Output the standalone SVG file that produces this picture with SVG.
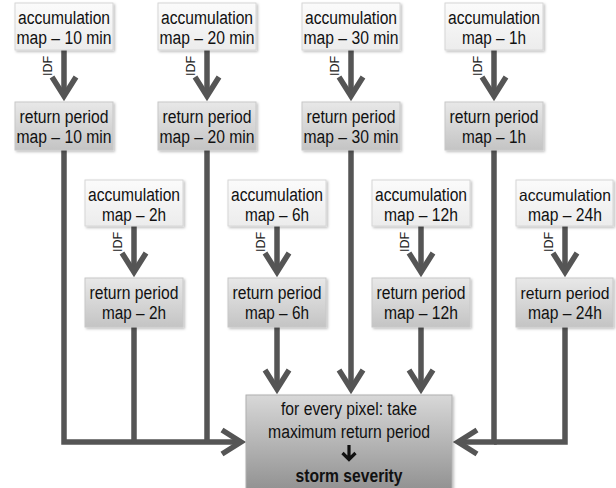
<svg xmlns="http://www.w3.org/2000/svg" width="616" height="488" viewBox="0 0 616 488">
<style>
  text { font-family: "Liberation Sans", Arial, sans-serif; fill: #111; }
  .t { font-size: 18px; text-anchor: middle; }
  .s { font-size: 16.5px; }
  .idf { font-size: 12.5px; text-anchor: middle; fill: #222; }
  .b { font-weight: bold; }
  .acc { fill: url(#gAcc); stroke: #d6d6d6; stroke-width: 1; filter: url(#sh); }
  .rp { fill: url(#gRp); stroke: #c8c8c8; stroke-width: 1; filter: url(#sh); }
  .fin { fill: url(#gFin); stroke: #b0b0b0; stroke-width: 1; filter: url(#sh); }
  .c { fill: none; stroke: #555; stroke-width: 5.5; stroke-linejoin: miter; }
  .a { marker-end: url(#ah); }
</style>
<defs>
  <linearGradient id="gAcc" x1="0" y1="0" x2="0" y2="1">
    <stop offset="0" stop-color="#fbfbfb"/>
    <stop offset="1" stop-color="#ececec"/>
  </linearGradient>
  <linearGradient id="gRp" x1="0" y1="0" x2="0" y2="1">
    <stop offset="0" stop-color="#e8e8e8"/>
    <stop offset="1" stop-color="#c4c4c4"/>
  </linearGradient>
  <linearGradient id="gFin" x1="0" y1="0" x2="0" y2="1">
    <stop offset="0" stop-color="#d8d8d8"/>
    <stop offset="1" stop-color="#8e8e8e"/>
  </linearGradient>
  <filter id="sh" x="-10%" y="-10%" width="130%" height="130%">
    <feDropShadow dx="1.5" dy="1.5" stdDeviation="1.2" flood-color="#000" flood-opacity="0.25"/>
  </filter>
  <marker id="ah" markerUnits="userSpaceOnUse" viewBox="-25 -15 35 30" markerWidth="35" markerHeight="30" refX="0" refY="0" orient="auto" overflow="visible">
    <path d="M-19,-12 L0,0 L-19,12" fill="none" stroke="#555" stroke-width="5.5" stroke-linejoin="miter"/>
  </marker>
</defs>

<g id="connectors">
  <path class="c a" d="M64,50 V96"/>
  <path class="c a" d="M207,50 V96"/>
  <path class="c a" d="M351,50 V96"/>
  <path class="c a" d="M494,50 V96"/>
  <path class="c a" d="M134,226 V272"/>
  <path class="c a" d="M277,226 V272"/>
  <path class="c a" d="M421,226 V272"/>
  <path class="c a" d="M565,226 V272"/>
  <path class="c a" d="M64,150 V442 H241"/>
  <path class="c" d="M134,327 V442"/>
  <path class="c" d="M207,150 V442"/>
  <path class="c a" d="M277,327 V389"/>
  <path class="c a" d="M351,150 V389"/>
  <path class="c a" d="M421,327 V389"/>
  <path class="c a" d="M494,150 V442 H458"/>
  <path class="c" d="M565,327 V442 H494"/>
  <text class="idf" transform="translate(52,66) rotate(-90)">IDF</text>
  <text class="idf" transform="translate(195,66) rotate(-90)">IDF</text>
  <text class="idf" transform="translate(339,66) rotate(-90)">IDF</text>
  <text class="idf" transform="translate(482,66) rotate(-90)">IDF</text>
  <text class="idf" transform="translate(122,242) rotate(-90)">IDF</text>
  <text class="idf" transform="translate(265,242) rotate(-90)">IDF</text>
  <text class="idf" transform="translate(409,242) rotate(-90)">IDF</text>
  <text class="idf" transform="translate(553,242) rotate(-90)">IDF</text>
</g>

<g id="acc-10min">
  <rect class="acc" x="15" y="3" width="98" height="47"/>
  <text class="t" x="64" y="24" textLength="92" lengthAdjust="spacingAndGlyphs">accumulation</text>
  <text class="t" x="64" y="44" textLength="95" lengthAdjust="spacingAndGlyphs">map – 10 min</text>
</g>
<g id="acc-20min">
  <rect class="acc" x="158" y="3" width="98" height="47"/>
  <text class="t" x="207" y="24" textLength="92" lengthAdjust="spacingAndGlyphs">accumulation</text>
  <text class="t" x="207" y="44" textLength="95" lengthAdjust="spacingAndGlyphs">map – 20 min</text>
</g>
<g id="acc-30min">
  <rect class="acc" x="302" y="3" width="98" height="47"/>
  <text class="t" x="351" y="24" textLength="92" lengthAdjust="spacingAndGlyphs">accumulation</text>
  <text class="t" x="351" y="44" textLength="95" lengthAdjust="spacingAndGlyphs">map – 30 min</text>
</g>
<g id="acc-1h">
  <rect class="acc" x="445" y="3" width="98" height="47"/>
  <text class="t" x="494" y="24" textLength="92" lengthAdjust="spacingAndGlyphs">accumulation</text>
  <text class="t" x="494" y="44" textLength="64" lengthAdjust="spacingAndGlyphs">map – 1h</text>
</g>

<g id="rp-10min">
  <rect class="rp" x="15" y="102" width="98" height="48"/>
  <text class="t" x="64" y="123" textLength="89" lengthAdjust="spacingAndGlyphs">return period</text>
  <text class="t" x="64" y="143" textLength="95" lengthAdjust="spacingAndGlyphs">map – 10 min</text>
</g>
<g id="rp-20min">
  <rect class="rp" x="158" y="102" width="98" height="48"/>
  <text class="t" x="207" y="123" textLength="89" lengthAdjust="spacingAndGlyphs">return period</text>
  <text class="t" x="207" y="143" textLength="95" lengthAdjust="spacingAndGlyphs">map – 20 min</text>
</g>
<g id="rp-30min">
  <rect class="rp" x="302" y="102" width="98" height="48"/>
  <text class="t" x="351" y="123" textLength="89" lengthAdjust="spacingAndGlyphs">return period</text>
  <text class="t" x="351" y="143" textLength="95" lengthAdjust="spacingAndGlyphs">map – 30 min</text>
</g>
<g id="rp-1h">
  <rect class="rp" x="445" y="102" width="98" height="48"/>
  <text class="t" x="494" y="123" textLength="89" lengthAdjust="spacingAndGlyphs">return period</text>
  <text class="t" x="494" y="143" textLength="64" lengthAdjust="spacingAndGlyphs">map – 1h</text>
</g>

<g id="acc-2h">
  <rect class="acc" x="85" y="180" width="98" height="46"/>
  <text class="t" x="134" y="201" textLength="92" lengthAdjust="spacingAndGlyphs">accumulation</text>
  <text class="t" x="134" y="221" textLength="64" lengthAdjust="spacingAndGlyphs">map – 2h</text>
</g>
<g id="acc-6h">
  <rect class="acc" x="228" y="180" width="98" height="46"/>
  <text class="t" x="277" y="201" textLength="92" lengthAdjust="spacingAndGlyphs">accumulation</text>
  <text class="t" x="277" y="221" textLength="64" lengthAdjust="spacingAndGlyphs">map – 6h</text>
</g>
<g id="acc-12h">
  <rect class="acc" x="372" y="180" width="98" height="46"/>
  <text class="t" x="421" y="201" textLength="92" lengthAdjust="spacingAndGlyphs">accumulation</text>
  <text class="t" x="421" y="221" textLength="74" lengthAdjust="spacingAndGlyphs">map – 12h</text>
</g>
<g id="acc-24h">
  <rect class="acc" x="516" y="180" width="97" height="46"/>
  <text class="t s" x="565" y="201" textLength="92" lengthAdjust="spacingAndGlyphs">accumulation</text>
  <text class="t" x="565" y="221" textLength="74" lengthAdjust="spacingAndGlyphs">map – 24h</text>
</g>

<g id="rp-2h">
  <rect class="rp" x="85" y="278" width="98" height="49"/>
  <text class="t" x="134" y="299" textLength="89" lengthAdjust="spacingAndGlyphs">return period</text>
  <text class="t" x="134" y="319" textLength="64" lengthAdjust="spacingAndGlyphs">map – 2h</text>
</g>
<g id="rp-6h">
  <rect class="rp" x="228" y="278" width="98" height="49"/>
  <text class="t" x="277" y="299" textLength="89" lengthAdjust="spacingAndGlyphs">return period</text>
  <text class="t" x="277" y="319" textLength="64" lengthAdjust="spacingAndGlyphs">map – 6h</text>
</g>
<g id="rp-12h">
  <rect class="rp" x="372" y="278" width="98" height="49"/>
  <text class="t" x="421" y="299" textLength="89" lengthAdjust="spacingAndGlyphs">return period</text>
  <text class="t" x="421" y="319" textLength="74" lengthAdjust="spacingAndGlyphs">map – 12h</text>
</g>
<g id="rp-24h">
  <rect class="rp" x="516" y="278" width="97" height="49"/>
  <text class="t s" x="565" y="299" textLength="89" lengthAdjust="spacingAndGlyphs">return period</text>
  <text class="t" x="565" y="319" textLength="74" lengthAdjust="spacingAndGlyphs">map – 24h</text>
</g>

<g id="storm-severity">
  <rect class="fin" x="246" y="395" width="206" height="100"/>
  <text class="t" x="349" y="415" textLength="136" lengthAdjust="spacingAndGlyphs">for every pixel: take</text>
  <text class="t" x="349" y="438" textLength="162" lengthAdjust="spacingAndGlyphs">maximum return period</text>
  <path d="M349,445 V460 M342.5,453 L349,459.5 L355.5,453" fill="none" stroke="#111" stroke-width="3.2"/>
  <text class="t b" x="349" y="482" textLength="107" lengthAdjust="spacingAndGlyphs">storm severity</text>
</g>
</svg>
